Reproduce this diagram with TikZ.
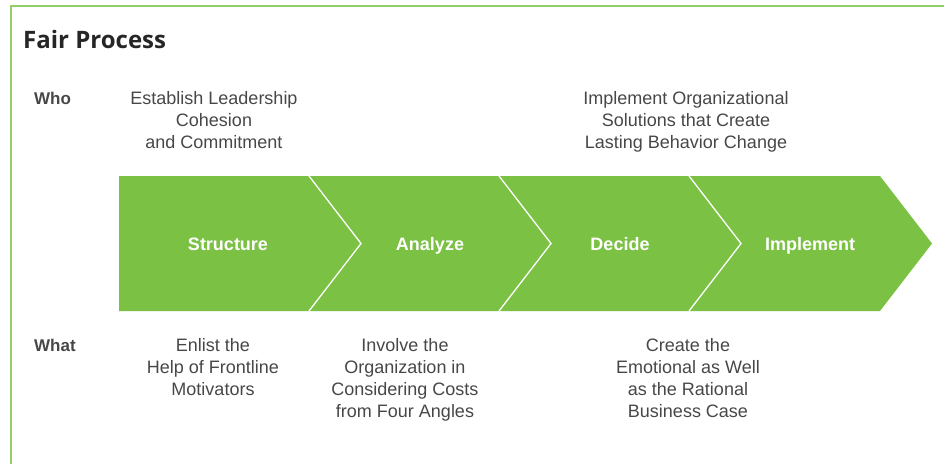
\documentclass[tikz,border=0pt]{standalone}
\usepackage{fontspec}
\setmainfont{Liberation Sans}
\newfontfamily\titlefont{Open Sans}
\definecolor{bandgreen}{HTML}{7BC143}
\definecolor{framegreen}{HTML}{92CE6A}
\definecolor{txtgrey}{HTML}{474747}
\tikzset{
  body/.style={inner sep=0pt, align=center, text=txtgrey, font=\fontsize{18}{22}\selectfont, anchor=north},
  rowlabel/.style={inner sep=0pt, text=txtgrey, font=\fontsize{17}{22}\selectfont\bfseries, anchor=base west},
  steplabel/.style={inner sep=0pt, text=white, font=\fontsize{18}{22}\selectfont\bfseries, anchor=base},
  sepline/.style={draw=white, line width=1.3pt}
}
\begin{document}
\begin{tikzpicture}[x=1pt,y=-1pt]
\useasboundingbox (0,0) rectangle (944,464);
% frame
\draw[draw=framegreen, line width=2pt] (11,464) -- (11,6) -- (944,6);
% title
\node[inner sep=0pt, anchor=base west, text=black!85, font=\titlefont\fontsize{24}{28}\selectfont\bfseries] (title) at (23,48) {Fair Process};
% band
\fill[bandgreen] (119,176) -- (880,176) -- (932,243.5) -- (880,311) -- (119,311) -- cycle;
\foreach \x in {309,499,689} {
  \draw[sepline] (\x,176) -- (\x+52,243.5) -- (\x,311);
}
% step labels
\node[steplabel] (s1) at (228,250) {Structure};
\node[steplabel] (s2) at (430,250) {Analyze};
\node[steplabel] (s3) at (620,250) {Decide};
\node[steplabel] (s4) at (810,250) {Implement};
% row labels
\node[rowlabel] (who) at (34,104) {Who};
\node[rowlabel] (what) at (34,351) {What};
% who texts
\node[body] (who1) at (214,91) {Establish Leadership\\Cohesion\\and Commitment};
\node[body] (who4) at (686,91) {Implement Organizational\\Solutions that Create\\Lasting Behavior Change};
% what texts
\node[body] (what1) at (213,338) {Enlist the\\Help of Frontline\\Motivators};
\node[body] (what2) at (405,338) {Involve the\\Organization in\\Considering Costs\\from Four Angles};
\node[body] (what3) at (688,338) {Create the\\Emotional as Well\\as the Rational\\Business Case};
\end{tikzpicture}
\end{document}
